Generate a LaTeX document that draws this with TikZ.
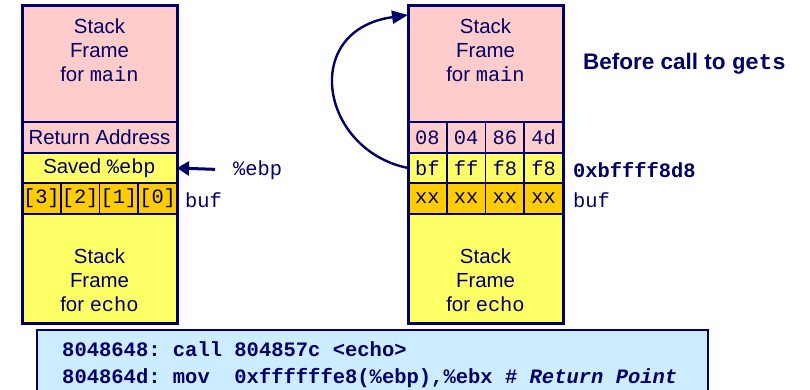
\documentclass[tikz,border=0pt]{standalone}
\usepackage{fontspec}
\setmainfont{Liberation Sans}
\setmonofont{Liberation Mono}
\usetikzlibrary{arrows.meta}

\definecolor{navy}{RGB}{0,0,102}
\definecolor{framepink}{RGB}{255,204,204}
\definecolor{frameyellow}{RGB}{255,255,102}
\definecolor{bufgold}{RGB}{255,204,0}
\definecolor{codeblue}{RGB}{204,236,255}

\begin{document}
\begin{tikzpicture}[x=1pt,y=-1pt,
  cell/.style={draw=navy, line width=1.6pt, rectangle, inner sep=0pt, outer sep=0pt,
    text=navy, font=\fontsize{20.4}{24}\selectfont},
  pinkcell/.style={cell, fill=framepink},
  yellowcell/.style={cell, fill=frameyellow},
  goldcell/.style={cell, fill=bufgold, minimum width=38.75pt, minimum height=31pt, font=\ttfamily\fontsize{20.4}{24}\selectfont},
  bytecell/.style={cell, minimum width=38.75pt, minimum height=30pt, font=\ttfamily\fontsize{20.4}{24}\selectfont},
  outline/.style={draw=navy, line width=3pt},
  frametext/.style={text=navy, align=center, inner sep=0pt, font=\fontsize{20.4}{24}\selectfont},
  sidelabel/.style={text=navy, anchor=west, inner sep=0pt, font=\ttfamily\fontsize{20.4}{24}\selectfont},
  codeline/.style={text=navy, anchor=base west, inner sep=0pt, font=\bfseries\ttfamily\fontsize{20.5}{28}\selectfont},
  pointer/.style={draw=navy, line width=3pt, -{Triangle[length=12pt,width=14pt]}},
  linkarrow/.style={draw=navy, line width=2.4pt, -{Triangle[length=16pt,width=13pt]}}
]
\useasboundingbox (0,0) rectangle (810,390);

% ---------- left stack: before the buffer is filled ----------
\node[pinkcell, minimum width=155pt, minimum height=116pt] (lmain) at (99.5,64) {};
\node[pinkcell, minimum width=155pt, minimum height=31pt] (lret) at (99.5,137.5) {Return Address};
\node[yellowcell, minimum width=155pt, minimum height=30pt] (lsaved) at (99.5,168) {Saved \texttt{\%ebp}};
\node[goldcell] (lbuf3) at (41.375,198.5) {[3]};
\node[goldcell] (lbuf2) at (80.125,198.5) {[2]};
\node[goldcell] (lbuf1) at (118.875,198.5) {[1]};
\node[goldcell] (lbuf0) at (157.625,198.5) {[0]};
\node[yellowcell, minimum width=155pt, minimum height=109pt] (lecho) at (99.5,268.5) {};
\draw[outline] (lmain.north west) rectangle (lecho.south east);

\node[frametext] (lmaintext) at (99.5,50) {Stack\\Frame\\for \texttt{main}};
\node[frametext] (lechotext) at (99.5,280) {Stack\\Frame\\for \texttt{echo}};

\node[sidelabel] (ebp) at (233,170) {\%ebp};
\node[sidelabel] (lbuflabel) at (185,200) {buf};
\draw[pointer, shorten <=18pt] (ebp.west) -- (lsaved.east);

% ---------- right stack: bytes before the call to gets ----------
\node[pinkcell, minimum width=155pt, minimum height=116pt] (rmain) at (485.5,64) {};
\node[bytecell, fill=framepink] (rret0) at (427.375,137.5) {08};
\node[bytecell, fill=framepink] (rret1) at (466.125,137.5) {04};
\node[bytecell, fill=framepink] (rret2) at (504.875,137.5) {86};
\node[bytecell, fill=framepink] (rret3) at (543.625,137.5) {4d};
\node[bytecell, fill=frameyellow] (rbf0) at (427.375,168) {bf};
\node[bytecell, fill=frameyellow] (rbf1) at (466.125,168) {ff};
\node[bytecell, fill=frameyellow] (rbf2) at (504.875,168) {f8};
\node[bytecell, fill=frameyellow] (rbf3) at (543.625,168) {f8};
\node[goldcell] (rbuf3) at (427.375,198.5) {xx};
\node[goldcell] (rbuf2) at (466.125,198.5) {xx};
\node[goldcell] (rbuf1) at (504.875,198.5) {xx};
\node[goldcell] (rbuf0) at (543.625,198.5) {xx};
\node[yellowcell, minimum width=155pt, minimum height=109pt] (recho) at (485.5,268.5) {};
\draw[outline] (rmain.north west) rectangle (recho.south east);

\node[frametext] (rmaintext) at (485.5,50) {Stack\\Frame\\for \texttt{main}};
\node[frametext] (rechotext) at (485.5,280) {Stack\\Frame\\for \texttt{echo}};

\node[sidelabel, font=\bfseries\ttfamily\fontsize{20.4}{24}\selectfont] (addr) at (573,170) {0xbffff8d8};
\node[sidelabel] (rbuflabel) at (573,200) {buf};

\node[text=navy, anchor=west, inner sep=0pt, font=\bfseries\fontsize{22.5}{27}\selectfont] (title)
  at (583,63.5) {Before call to \texttt{gets}};

% saved frame pointer refers back to the frame of main
\draw[linkarrow] (rbf0.west) .. controls (320,150) and (300,30) .. ([yshift=-9pt]rmain.north west);

% ---------- disassembly ----------
\begin{scope}
\clip (0,0) rectangle (810,390);
\node[draw=navy, fill=codeblue, line width=2pt, inner sep=0pt, outer sep=0pt, anchor=north west,
  minimum width=671pt, minimum height=80pt] (code) at (37,330) {};
\end{scope}
\node[codeline] (code1) at (62,356) {8048648: call 804857c <echo>};
\node[codeline] (code2) at (62,383) {804864d: mov\ \ 0xffffffe8(\%ebp),\%ebx \# \textit{Return Point}};
\end{tikzpicture}
\end{document}
